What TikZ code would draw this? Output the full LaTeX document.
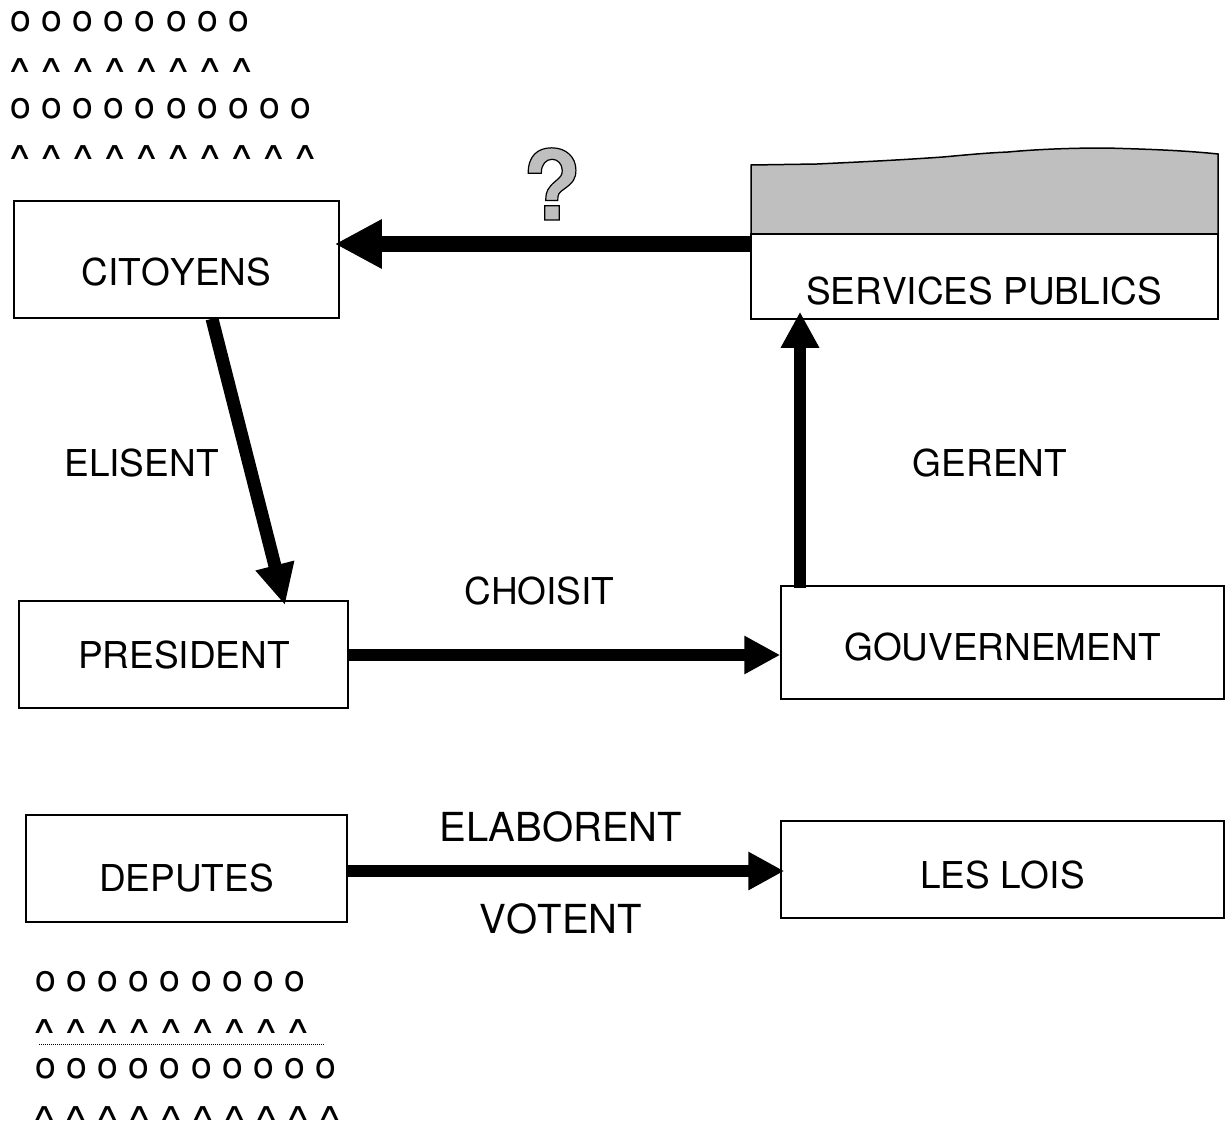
\documentclass[tikz,border=0pt]{standalone}
\usepackage{fontspec}
\setmainfont[Kerning=Off]{TeX Gyre Heros}
\newfontfamily\carfont[FakeStretch=1.55]{DejaVu Sans}
\usetikzlibrary{arrows.meta}
\definecolor{shade}{HTML}{BFBFBF}
% label placed by its baseline, relative to the centre of its box
\newcommand\boxtext[3]{\raisebox{#2}[0pt][0pt]{\makebox[0pt]{\hspace{#1}#3}}}
\newcommand\rowo[1]{\fontsize{37.4pt}{40pt}\selectfont #1}
\newcommand\rowc{\carfont\fontsize{24pt}{26pt}\selectfont\spaceskip=4.5pt\relax}
\tikzset{
  box/.style={draw=black,fill=white,line width=1.5pt,inner sep=0pt,font=\fontsize{37pt}{40pt}\selectfont},
  lab/.style={inner sep=0pt,anchor=base,font=\fontsize{37pt}{40pt}\selectfont},
  biglab/.style={inner sep=0pt,anchor=base,font=\fontsize{40pt}{44pt}\selectfont},
  row/.style={inner sep=0pt,anchor=base west},
  heavy/.style={line width=#1,draw=black},
  tipA/.style={-{Triangle[length=47pt,width=46pt,inset=0pt]}},
  tipB/.style={-{Triangle[length=41pt,width=37pt,inset=0pt]}},
  tipC/.style={-{Triangle[length=36pt,width=36pt,inset=0pt]}}
}
\begin{document}
\begin{tikzpicture}[x=1pt,y=-1pt]
\useasboundingbox (0,0) rectangle (1225,1124);
% text rows, top left
\node[row] (r1) at (10,32) {\rowo{o o o o o o o o}};
\node[row] (r2) at (5.8,72) {\rowc ∧ ∧ ∧ ∧ ∧ ∧ ∧ ∧};
\node[row] (r3) at (10,118) {\rowo{o o o o o o o o o o}};
\node[row] (r4) at (5.8,159) {\rowc ∧ ∧ ∧ ∧ ∧ ∧ ∧ ∧ ∧ ∧};
% text rows, bottom left
\node[row] (r5) at (35,991) {\rowo{o o o o o o o o o}};
\node[row] (r6) at (30.3,1033) {\rowc ∧ ∧ ∧ ∧ ∧ ∧ ∧ ∧ ∧};
\node[row] (r7) at (35,1078) {\rowo{o o o o o o o o o o}};
\node[row] (r8) at (30.3,1120) {\rowc ∧ ∧ ∧ ∧ ∧ ∧ ∧ ∧ ∧ ∧};
\draw[line width=1pt,dash pattern=on 1pt off 1pt] (39,1044) -- (325,1044);
% gray top of the services box
\filldraw[fill=shade,draw=black,line width=1.5pt]
  (751,234) -- (751,165) -- (817,164) .. controls (860,162) and (900,160) .. (943,157)
  .. controls (965,155) and (985,153) .. (1008,152) .. controls (1040,149) and (1075,148) .. (1106,148)
  .. controls (1140,149) and (1180,150) .. (1218,154) -- (1218,234) -- cycle;
% boxes
\node[box,minimum width=325pt,minimum height=117pt] (cit) at (176.5,259.5) {\boxtext{0pt}{-25.5pt}{CITOYENS}};
\node[box,minimum width=467pt,minimum height=85pt] (srv) at (984.5,276.5) {\boxtext{-1pt}{-28pt}{SERVICES PUBLICS}};
\node[box,minimum width=329pt,minimum height=107pt] (pre) at (183.5,654.5) {\boxtext{1pt}{-14pt}{PRESIDENT}};
\node[box,minimum width=443pt,minimum height=113pt] (gov) at (1002.5,642.5) {\boxtext{0pt}{-18pt}{GOUVERNEMENT}};
\node[box,minimum width=321pt,minimum height=107pt] (dep) at (186.5,868.5) {\boxtext{0pt}{-23pt}{DEPUTES}};
\node[box,minimum width=443pt,minimum height=97pt] (loi) at (1002.5,869.5) {\boxtext{0pt}{-19pt}{LES LOIS}};
% labels
\node[lab] (q1) at (141.5,476) {ELISENT};
\node[lab] (q2) at (990,476) {GERENT};
\node[lab] (q3) at (539.5,604) {CHOISIT};
\node[biglab] (q4) at (561,841) {ELABORENT};
\node[biglab] (q5) at (561,933) {VOTENT};
% question mark
\node[inner sep=0pt,anchor=base,text=shade,font=\bfseries\fontsize{97pt}{100pt}\selectfont] (qm) at (552,220)
  {\special{pdf:code 2 Tr 1.2 w 0 0 0 RG}?\special{pdf:code 0 Tr}};
% connectors
\draw[heavy=16pt,tipA] ([yshift=32.5pt]srv.west) -- ([xshift=-5pt,yshift=15.5pt]cit.east);
\draw[heavy=13pt,tipB] ([xshift=35.5pt]cit.south) -- ([xshift=101.5pt,yshift=-5pt]pre.north);
\draw[heavy=12pt,tipC] ([yshift=-0.5pt]pre.east) -- ([xshift=0pt,yshift=-12.5pt]gov.west);
\draw[heavy=12pt,tipC] ([xshift=-202.5pt,yshift=-3pt]gov.north) -- ([xshift=-184.5pt,yshift=8pt]srv.south);
\draw[heavy=12pt,tipC] ([xshift=-2pt,yshift=-2.5pt]dep.east) -- ([xshift=4pt,yshift=-1.5pt]loi.west);
\end{tikzpicture}
\end{document}
